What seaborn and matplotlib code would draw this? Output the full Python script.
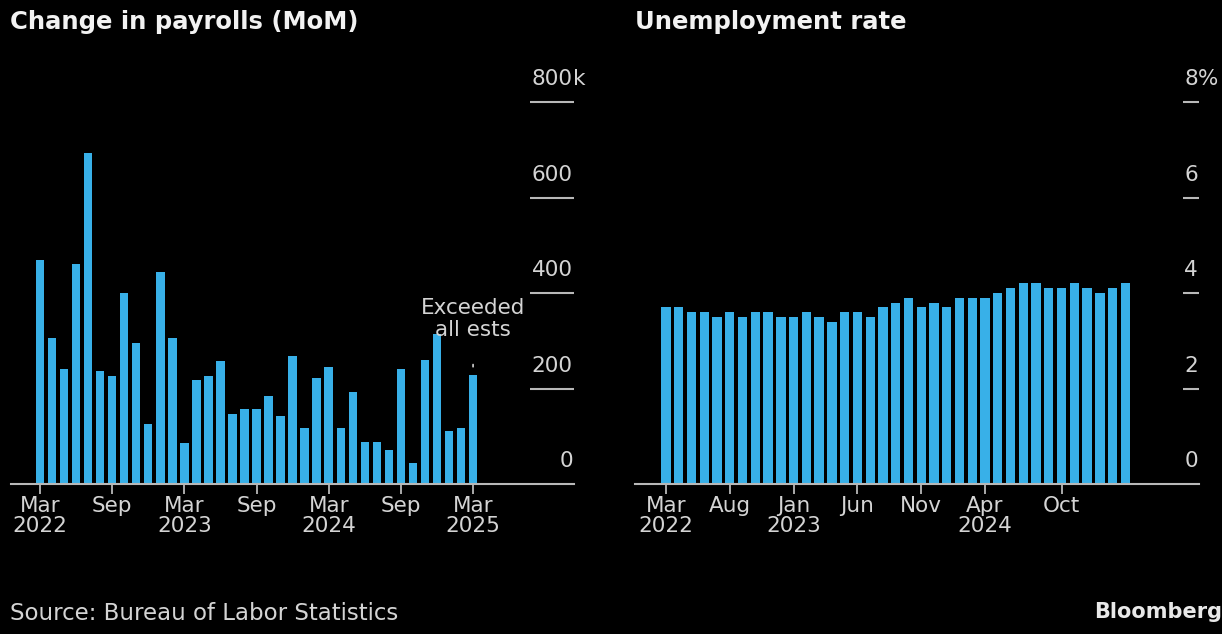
import matplotlib
matplotlib.use("Agg")
import matplotlib.pyplot as plt
import matplotlib.transforms as mtransforms
import seaborn as sns
import pandas as pd

# ---------------- data ----------------
months = [d.strftime("%Y-%m") for d in pd.date_range("2022-03-01", "2025-03-01", freq="MS")]

payrolls_k = [470, 305, 241, 460, 694, 237, 226, 399, 296, 126, 443, 305,
              85, 217, 226, 257, 147, 157, 157, 185, 142, 269, 118, 221,
              246, 117, 192, 87, 87, 71, 240, 44, 260, 314, 110, 117, 228]

unemployment = [3.7, 3.7, 3.6, 3.6, 3.5, 3.6, 3.5, 3.6, 3.6, 3.5, 3.5, 3.6,
                3.5, 3.4, 3.6, 3.6, 3.5, 3.7, 3.8, 3.9, 3.7, 3.8, 3.7, 3.9,
                3.9, 3.9, 4.0, 4.1, 4.2, 4.2, 4.1, 4.1, 4.2, 4.1, 4.0, 4.1, 4.2]

left_tick_idx = [0, 6, 12, 18, 24, 30, 36]
left_tick_labels = ["Mar\n2022", "Sep", "Mar\n2023", "Sep", "Mar\n2024", "Sep", "Mar\n2025"]
right_tick_idx = [0, 5, 10, 15, 20, 25, 31]
right_tick_labels = ["Mar\n2022", "Aug", "Jan\n2023", "Jun", "Nov", "Apr\n2024", "Oct"]

left_yticks = [0, 200, 400, 600, 800]
right_yticks = [0, 2, 4, 6, 8]

left_title = "Change in payrolls (MoM)"
right_title = "Unemployment rate"
annotation = "Exceeded\nall ests"
source = "Source: Bureau of Labor Statistics"
brand = "Bloomberg"

# ---------------- style ----------------
sns.set_theme(style="dark")
plt.rcParams["font.family"] = ["DejaVu Sans"]
BG = "#000000"
BAR = "#38B0E8"
TXT = "#d4d4d4"
AX = "#b8b8b8"

W, H = 1222, 634
fig = plt.figure(figsize=(W / 100, H / 100), dpi=100, facecolor=BG)


def px_axes(x0, x1, y_bottom, y_top):
    return fig.add_axes([x0 / W, (H - y_bottom) / H, (x1 - x0) / W, (y_bottom - y_top) / H])


axL = px_axes(11, 574, 484, 102)
axR = px_axes(635, 1199, 484, 102)

dfL = pd.DataFrame({"month": months, "value": payrolls_k})
dfR = pd.DataFrame({"month": months, "value": unemployment})

sns.barplot(data=dfL, x="month", y="value", ax=axL, color=BAR, saturation=1, width=0.7,
            edgecolor="none", linewidth=0)
sns.barplot(data=dfR, x="month", y="value", ax=axR, color=BAR, saturation=1, width=0.73,
            edgecolor="none", linewidth=0)


def style_axis(ax, xlim, ylim, yticks, tick_idx, tick_labels, suffix, ticklen):
    ax.set_facecolor(BG)
    ax.set_xlim(*xlim)
    ax.set_ylim(*ylim)
    ax.set_xlabel("")
    ax.set_ylabel("")
    ax.grid(False)
    for s in ["top", "left", "right"]:
        ax.spines[s].set_visible(False)
    ax.spines["bottom"].set_visible(True)
    ax.spines["bottom"].set_color(AX)
    ax.spines["bottom"].set_linewidth(1.5)
    ax.set_xticks(tick_idx)
    ax.set_xticklabels(tick_labels, fontsize=15.5, color=TXT, linespacing=1.0)
    ax.tick_params(axis="x", which="major", bottom=True, length=7, width=1.3,
                   color=AX, pad=2, direction="out")
    # y ticks on right, pointing inward, labels drawn above them
    ax.yaxis.tick_right()
    ax.set_yticks(yticks[1:])
    ax.tick_params(axis="y", which="major", right=True, left=False, length=ticklen,
                   width=1.5, color=AX, direction="in", labelright=False, labelleft=False)
    trans = mtransforms.blended_transform_factory(ax.transAxes, ax.transData)
    off = mtransforms.ScaledTranslation(0, 12 / 72, fig.dpi_scale_trans)
    for i, v in enumerate(yticks):
        ax.text(0.998, v, f"{v}", transform=trans + off, ha="right", va="baseline",
                fontsize=15.5, color=TXT)
        if i == len(yticks) - 1:
            ax.text(0.998, v, suffix, transform=trans + off, ha="left", va="baseline",
                    fontsize=15.5, color=TXT)


style_axis(axL, (-2.41, 44.39), (0, 800), left_yticks, left_tick_idx, left_tick_labels, "k", 32)
style_axis(axR, (-2.43, 41.77), (0, 8), right_yticks, right_tick_idx, right_tick_labels, "%", 11.5)

# annotation on last payroll bar
axL.annotate(annotation, xy=(len(payrolls_k) - 1, payrolls_k[-1]),
             xytext=(0, 25), textcoords="offset points", ha="center", va="bottom",
             fontsize=15.5, color=TXT, linespacing=1.15,
             arrowprops=dict(arrowstyle="-", color=TXT, lw=1.2, shrinkA=15, shrinkB=6))

# titles and footer
fig.text(10 / W, 1 - 22 / H, left_title, ha="left", va="center", fontsize=17.5,
         fontweight="bold", color="#f2f2f2")
fig.text(635 / W, 1 - 22 / H, right_title, ha="left", va="center", fontsize=17.5,
         fontweight="bold", color="#f2f2f2")
fig.text(10 / W, 1 - 613 / H, source, ha="left", va="center", fontsize=16.5,
         color=TXT)
fig.text(1222 / W, 1 - 612 / H, brand, ha="right", va="center", fontsize=15,
         fontweight="bold", color="#e8e8e8")

fig.savefig("out.png", dpi=100, facecolor=BG)
